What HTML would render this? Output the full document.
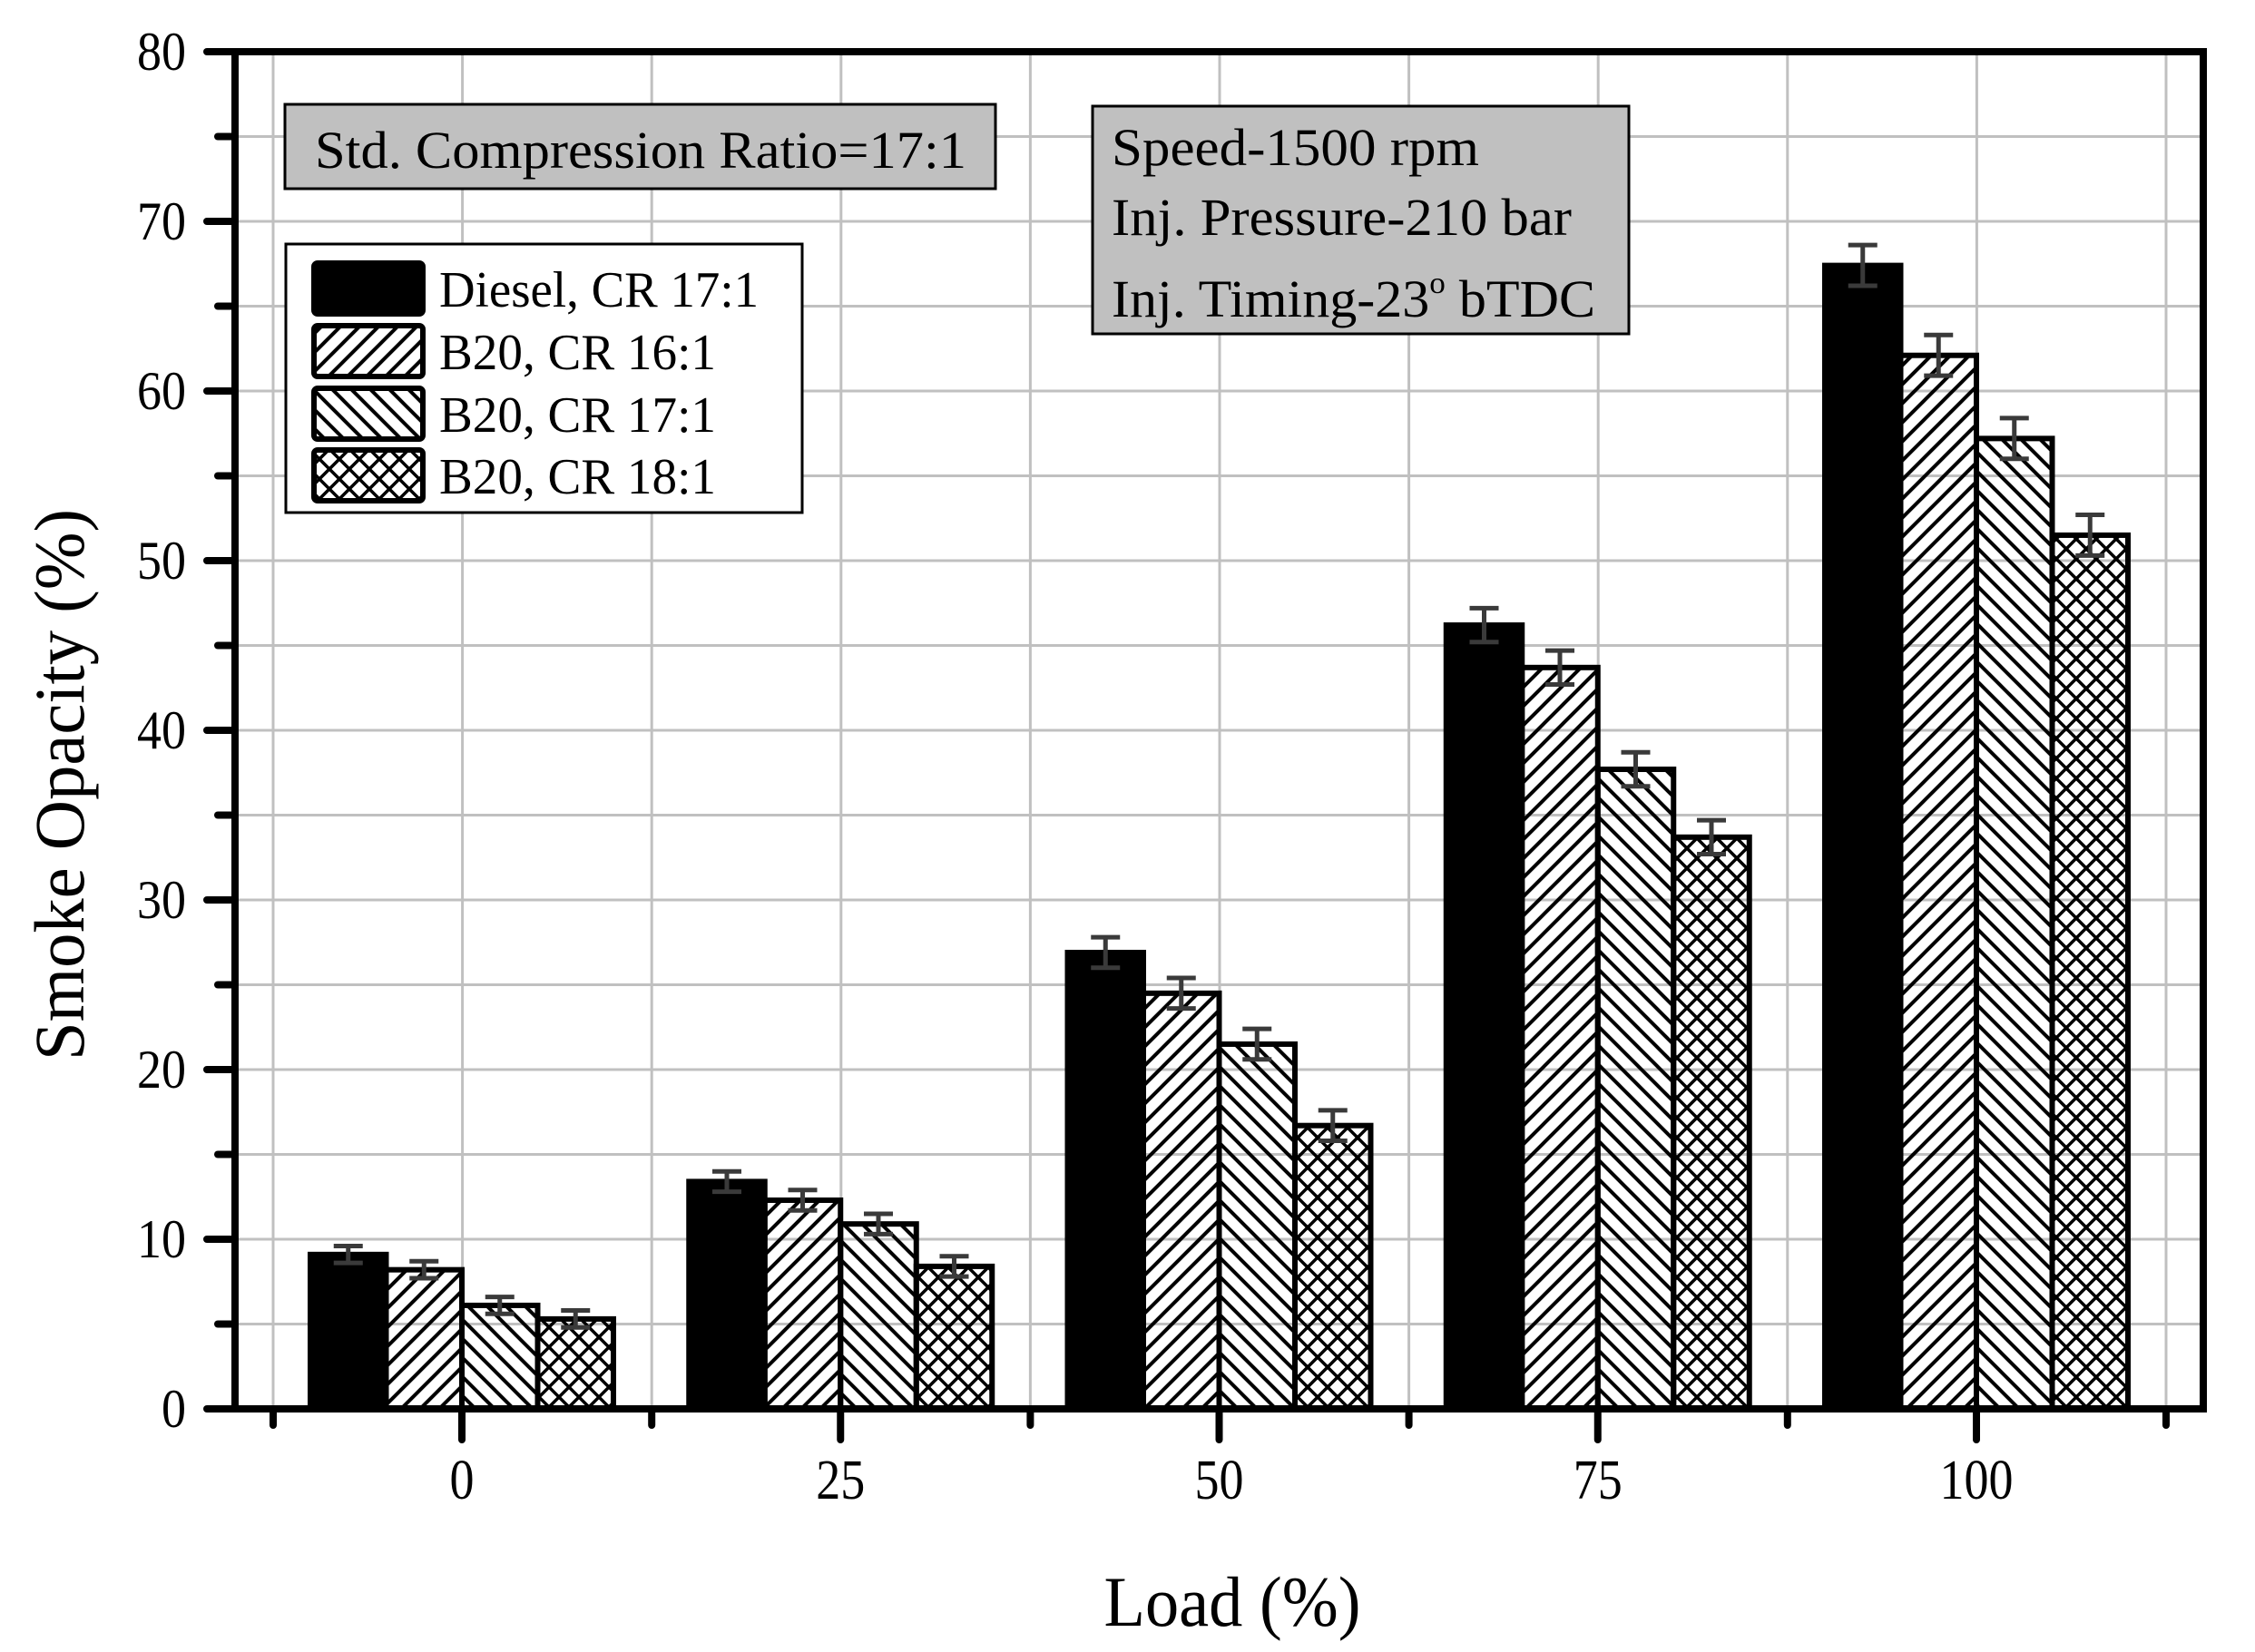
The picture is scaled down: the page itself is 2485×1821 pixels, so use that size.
<!DOCTYPE html>
<html><head><meta charset="utf-8"><style>html,body{margin:0;padding:0;background:#fff}svg{display:block}</style></head>
<body>
<svg xmlns="http://www.w3.org/2000/svg" width="2485" height="1821" viewBox="0 0 2485 1821" font-family="'Liberation Serif', serif">
<defs>
<pattern id="fw" patternUnits="userSpaceOnUse" width="21" height="21"><path d="M-5,26 L26,-5 M-5,5 L5,-5 M16,26 L26,16" stroke="#000" stroke-width="4"/></pattern>
<pattern id="bw" patternUnits="userSpaceOnUse" width="21" height="21"><path d="M-5,-5 L26,26 M-5,16 L5,26 M16,-5 L26,5" stroke="#000" stroke-width="4"/></pattern>
<pattern id="cx" patternUnits="userSpaceOnUse" width="22" height="22"><path d="M-5,27 L27,-5 M-5,-5 L27,27" stroke="#000" stroke-width="3.5"/></pattern>
</defs>
<rect width="2485" height="1821" fill="#fff"/>
<g stroke="#c0c0c0" stroke-width="3" id="grid"></g>
<g id="bars"></g>
<g id="axes"></g>
<rect x="314" y="115" width="783" height="93" fill="#c0c0c0" stroke="#000" stroke-width="3"/>
<text x="347" y="185" font-size="58" textLength="718" lengthAdjust="spacingAndGlyphs">Std. Compression Ratio=17:1</text>
<rect x="1204" y="117" width="591" height="251" fill="#c0c0c0" stroke="#000" stroke-width="3"/>
<text x="1225" y="182" font-size="58" textLength="405" lengthAdjust="spacingAndGlyphs">Speed-1500 rpm</text>
<text x="1225" y="259" font-size="58" textLength="507" lengthAdjust="spacingAndGlyphs">Inj. Pressure-210 bar</text>
<text x="1225" y="349" font-size="58" textLength="533" lengthAdjust="spacingAndGlyphs">Inj. Timing-23<tspan font-size="34" dy="-26">o</tspan><tspan dy="26"> bTDC</tspan></text>
<rect x="315" y="269" width="569" height="296" fill="#fff" stroke="#000" stroke-width="3"/>
<rect x="346" y="290" width="120" height="56" rx="4" fill="#000" stroke="#000" stroke-width="6"/>
<rect x="346" y="359" width="120" height="56" rx="4" fill="url(#fw)" stroke="#000" stroke-width="6"/>
<rect x="346" y="428" width="120" height="56" rx="4" fill="url(#bw)" stroke="#000" stroke-width="6"/>
<rect x="346" y="496" width="120" height="56" rx="4" fill="url(#cx)" stroke="#000" stroke-width="6"/>
<text x="484" y="338" font-size="56" textLength="352" lengthAdjust="spacingAndGlyphs">Diesel, CR 17:1</text>
<text x="484" y="407" font-size="56" textLength="305" lengthAdjust="spacingAndGlyphs">B20, CR 16:1</text>
<text x="484" y="476" font-size="56" textLength="305" lengthAdjust="spacingAndGlyphs">B20, CR 17:1</text>
<text x="484" y="544" font-size="56" textLength="305" lengthAdjust="spacingAndGlyphs">B20, CR 18:1</text>
<text transform="translate(92,865) rotate(-90)" text-anchor="middle" font-size="78" textLength="608" lengthAdjust="spacingAndGlyphs">Smoke Opacity (%)</text>
<text x="1358" y="1792" text-anchor="middle" font-size="78" textLength="283" lengthAdjust="spacingAndGlyphs">Load (%)</text>
<script>
(function(){
var NS="http://www.w3.org/2000/svg";
function el(p,t,a,txt){var e=document.createElementNS(NS,t);for(var k in a)e.setAttribute(k,a[k]);if(txt!=null)e.textContent=txt;p.appendChild(e);return e;}
var Y=function(v){return 1553-v*18.7;};
var g=document.getElementById('grid'),b=document.getElementById('bars'),ax=document.getElementById('axes');
for(var v=5;v<80;v+=5)el(g,'line',{x1:259,x2:2428,y1:Y(v),y2:Y(v)});
for(var i=0;i<11;i++){var x=301+208.6*i;el(g,'line',{x1:x,x2:x,y1:57,y2:1553});}
var data=[[9.1,8.2,6.1,5.3],[13.4,12.3,10.9,8.4],[26.9,24.5,21.5,16.7],[46.2,43.7,37.7,33.7],[67.4,62.1,57.2,51.5]];
var err=[0.5,0.6,0.9,1.0,1.2];
var fills=['#000','url(#fw)','url(#bw)','url(#cx)'];
for(var k=0;k<5;k++){var c=509+417.25*k;
 for(var j=0;j<4;j++){var x0=c-167+j*83.5,v=data[k][j];
  el(b,'rect',{x:x0,y:Y(v),width:83.5,height:1553-Y(v),fill:fills[j],stroke:'#000','stroke-width':6});}
 for(var j=0;j<4;j++){var xm=c-167+j*83.5+41.75,v=data[k][j],e=err[k];
  el(b,'path',{d:'M'+(xm-16)+','+Y(v+e)+'H'+(xm+16)+'M'+(xm-16)+','+Y(v-e)+'H'+(xm+16)+'M'+xm+','+Y(v+e)+'V'+Y(v-e),stroke:'#3a3a3a','stroke-width':5,fill:'none'});}
 el(ax,'line',{x1:c,x2:c,y1:1553,y2:1587,stroke:'#000','stroke-width':8,'stroke-linecap':'round'});
 var s=String(k*25);
 el(ax,'text',{x:c,y:1652,'text-anchor':'middle','font-size':62,textLength:s.length*27,lengthAdjust:'spacingAndGlyphs'},s);
}
for(var i=0;i<11;i+=2){var x=301+208.6*i;el(ax,'line',{x1:x,x2:x,y1:1553,y2:1571,stroke:'#000','stroke-width':8,'stroke-linecap':'round'});}
el(ax,'rect',{x:259,y:57,width:2169,height:1496,fill:'none',stroke:'#000','stroke-width':8});
for(var v=0;v<=80;v+=5){var y=Y(v),maj=v%10==0;
 el(ax,'line',{x1:maj?228:240,x2:259,y1:y,y2:y,stroke:'#000','stroke-width':8,'stroke-linecap':'round'});
 if(maj){var s=String(v);el(ax,'text',{x:205,y:y+20,'text-anchor':'end','font-size':60,textLength:s.length*27,lengthAdjust:'spacingAndGlyphs'},s);}}
})();
</script>
</svg>
</body></html>
